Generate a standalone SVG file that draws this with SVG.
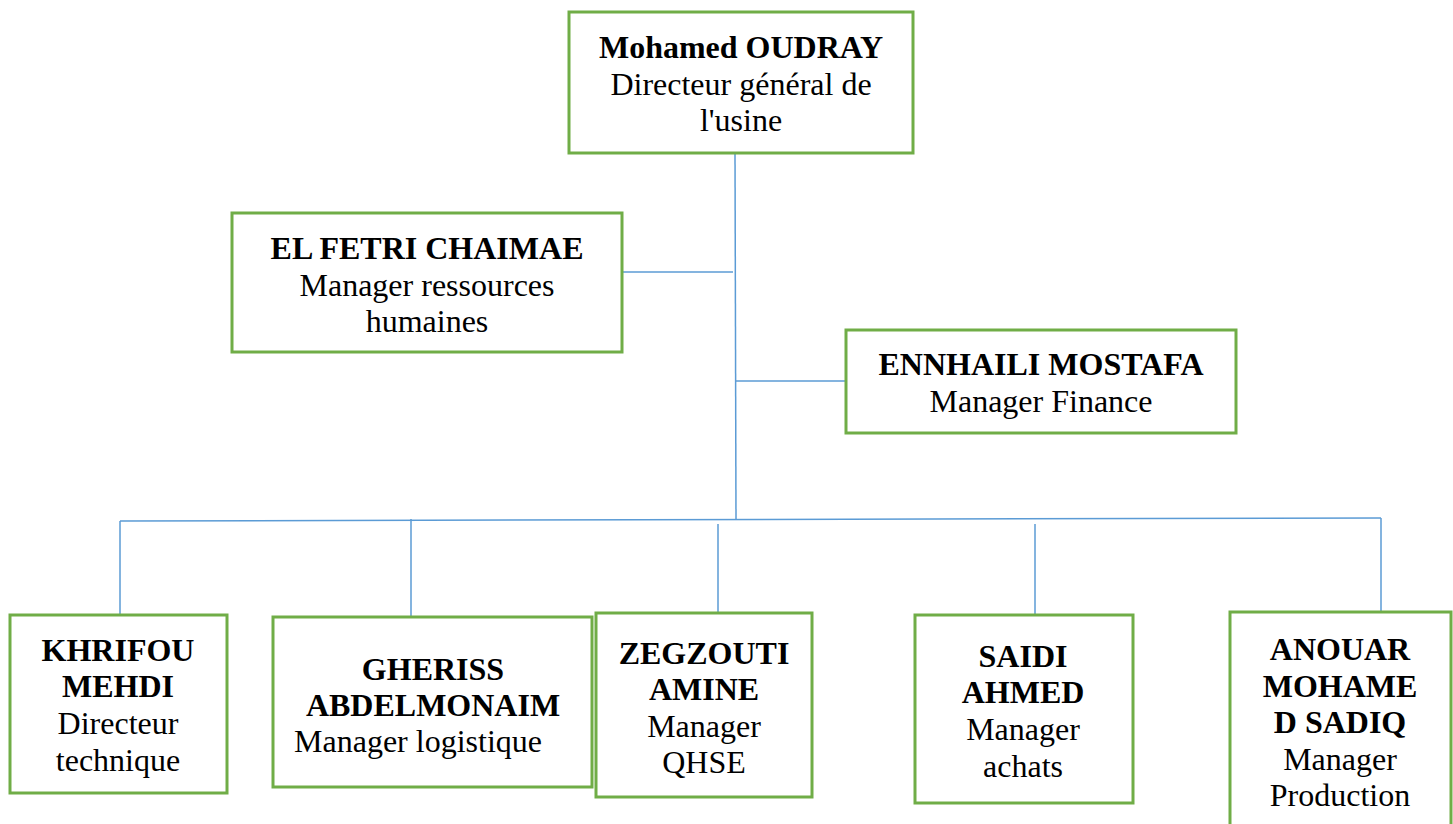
<svg xmlns="http://www.w3.org/2000/svg" width="1453" height="824" viewBox="0 0 1453 824">
  <style>
    .box { fill: #ffffff; stroke: #70AD47; stroke-width: 3; }
    .link { fill: none; stroke: #5B9BD5; stroke-width: 1.5; }
    text { font-family: "Liberation Serif", "Times New Roman", serif; font-size: 32px; fill: #000000; text-anchor: middle; }
    .name { font-weight: bold; }
  </style>
  <rect width="1453" height="824" fill="#ffffff"/>

  <!-- connectors -->
  <g id="connectors">
    <path class="link" d="M735 153 L736 519"/>
    <path class="link" d="M622 272 L733 272"/>
    <path class="link" d="M736 381 L846 381"/>
    <path class="link" d="M120 521 L1381 518"/>
    <path class="link" d="M120 521 L120 615"/>
    <path class="link" d="M411 519 L411 616"/>
    <path class="link" d="M718 524 L718 613"/>
    <path class="link" d="M1035 524 L1035 615"/>
    <path class="link" d="M1381 518 L1381 612"/>
  </g>

  <!-- general director -->
  <g id="node-oudray">
    <rect class="box" x="569" y="12" width="344" height="141"/>
    <text x="741" y="58" class="name">Mohamed OUDRAY</text>
    <text x="741" y="95">Directeur général de</text>
    <text x="741" y="131">l'usine</text>
  </g>

  <g id="node-elfetri">
    <rect class="box" x="232" y="213" width="390" height="139"/>
    <text x="427" y="259" class="name">EL FETRI CHAIMAE</text>
    <text x="427" y="296">Manager ressources</text>
    <text x="427" y="332">humaines</text>
  </g>

  <g id="node-ennhaili">
    <rect class="box" x="846" y="330" width="390" height="103"/>
    <text x="1041" y="375" class="name">ENNHAILI MOSTAFA</text>
    <text x="1041" y="412">Manager Finance</text>
  </g>

  <g id="node-khrifou">
    <rect class="box" x="10" y="615" width="217" height="178"/>
    <text x="118" y="661" class="name">KHRIFOU</text>
    <text x="118" y="697" class="name">MEHDI</text>
    <text x="118" y="734">Directeur</text>
    <text x="118" y="771">technique</text>
  </g>

  <g id="node-gheriss">
    <rect class="box" x="273" y="617" width="319" height="170"/>
    <text x="433" y="680" class="name">GHERISS</text>
    <text x="433" y="716" class="name">ABDELMONAIM</text>
    <text x="418" y="752">Manager logistique</text>
  </g>

  <g id="node-zegzouti">
    <rect class="box" x="596" y="613" width="216" height="184"/>
    <text x="704" y="664" class="name">ZEGZOUTI</text>
    <text x="704" y="700" class="name">AMINE</text>
    <text x="704" y="737">Manager</text>
    <text x="704" y="773">QHSE</text>
  </g>

  <g id="node-saidi">
    <rect class="box" x="915" y="615" width="218" height="188"/>
    <text x="1023" y="667" class="name">SAIDI</text>
    <text x="1023" y="703" class="name">AHMED</text>
    <text x="1023" y="740">Manager</text>
    <text x="1023" y="777">achats</text>
  </g>

  <g id="node-anouar">
    <rect class="box" x="1230" y="612" width="221" height="220"/>
    <text x="1340" y="660" class="name">ANOUAR</text>
    <text x="1340" y="697" class="name">MOHAME</text>
    <text x="1340" y="733" class="name">D SADIQ</text>
    <text x="1340" y="770">Manager</text>
    <text x="1340" y="806">Production</text>
  </g>
</svg>
